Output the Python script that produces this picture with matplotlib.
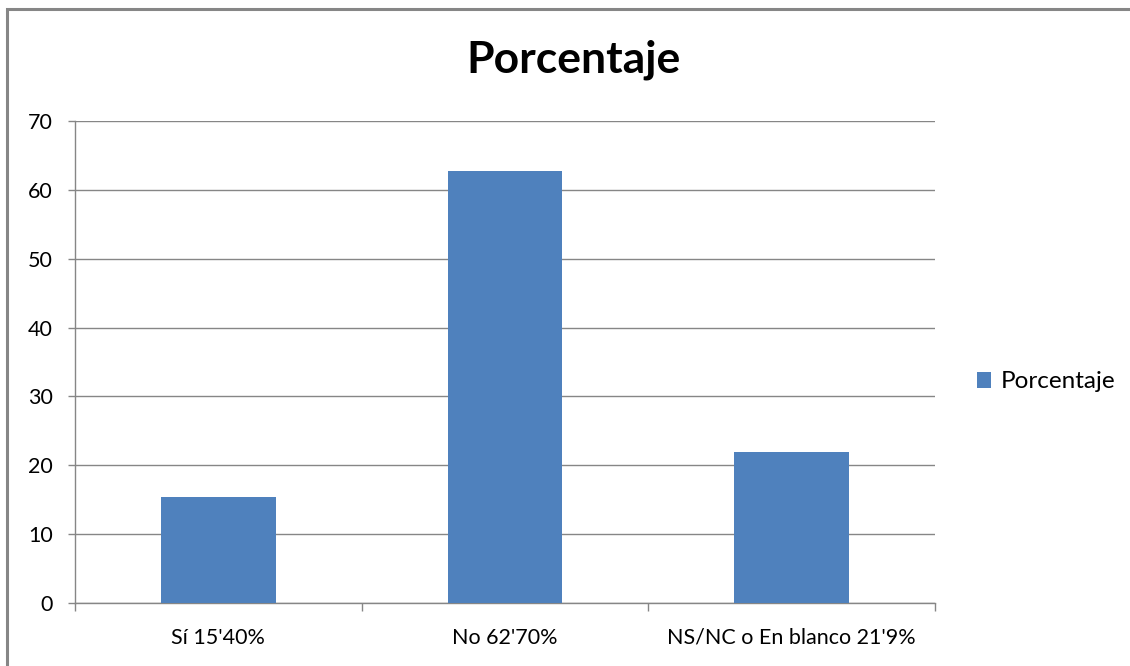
import matplotlib
matplotlib.use("Agg")
import matplotlib.pyplot as plt
from matplotlib.patches import Rectangle

categories = ["Sí 15'40%", "No 62'70%", "NS/NC o En blanco 21'9%"]
values = [15.4, 62.7, 21.9]
yticks = [0, 10, 20, 30, 40, 50, 60, 70]
series_name = "Porcentaje"
title = "Porcentaje"

plt.rcParams['font.family'] = ['Lato', 'DejaVu Sans']

W, H = 1130, 666
fig = plt.figure(figsize=(W/100, H/100), dpi=100)
fig.patch.set_facecolor('white')

# outer border (right and bottom cut off in the reference)
fig.add_artist(Rectangle((7/W, -0.05), 1.2, (H-9)/H + 0.05, transform=fig.transFigure,
                         fill=False, edgecolor='#868686', linewidth=2.2))

gray = '#868686'
ax = fig.add_axes([75/W, (H-603)/H, (935-75)/W, (603-121)/H])
x = list(range(len(categories)))
bars = ax.bar(x, values, width=0.4, color='#4F81BD', label=series_name, zorder=3)
ax.set_xlim(-0.5, len(categories)-0.5)
ax.set_ylim(0, 70)
ax.set_yticks(yticks)
ax.set_yticklabels([str(v) for v in yticks], fontsize=15.5)
ax.yaxis.grid(True, color=gray, linewidth=1, zorder=0)
ax.set_xticks(x)
ax.set_xticklabels(categories, fontsize=15.5)
ax.tick_params(axis='x', length=0, pad=18)
ax.set_xticks([-0.5, 0.5, 1.5, 2.5], minor=True)
ax.tick_params(axis='x', which='minor', length=6, color=gray, width=1)
ax.tick_params(axis='y', length=5, color=gray, width=1, pad=11)
for s in ['top', 'right']:
    ax.spines[s].set_visible(False)
for s in ['left', 'bottom']:
    ax.spines[s].set_color(gray)
    ax.spines[s].set_linewidth(1)

fig.text(574/W, 1 - 60/H, title, ha='center', va='center', fontsize=32, fontweight='bold')

leg = fig.legend(handles=[bars], labels=[series_name], loc='center left',
                 bbox_to_anchor=(955/W, 1 - 382/H), frameon=False, fontsize=17.5,
                 handlelength=0.6, handleheight=0.6, handletextpad=0.4)

fig.savefig("out.png", dpi=100)
